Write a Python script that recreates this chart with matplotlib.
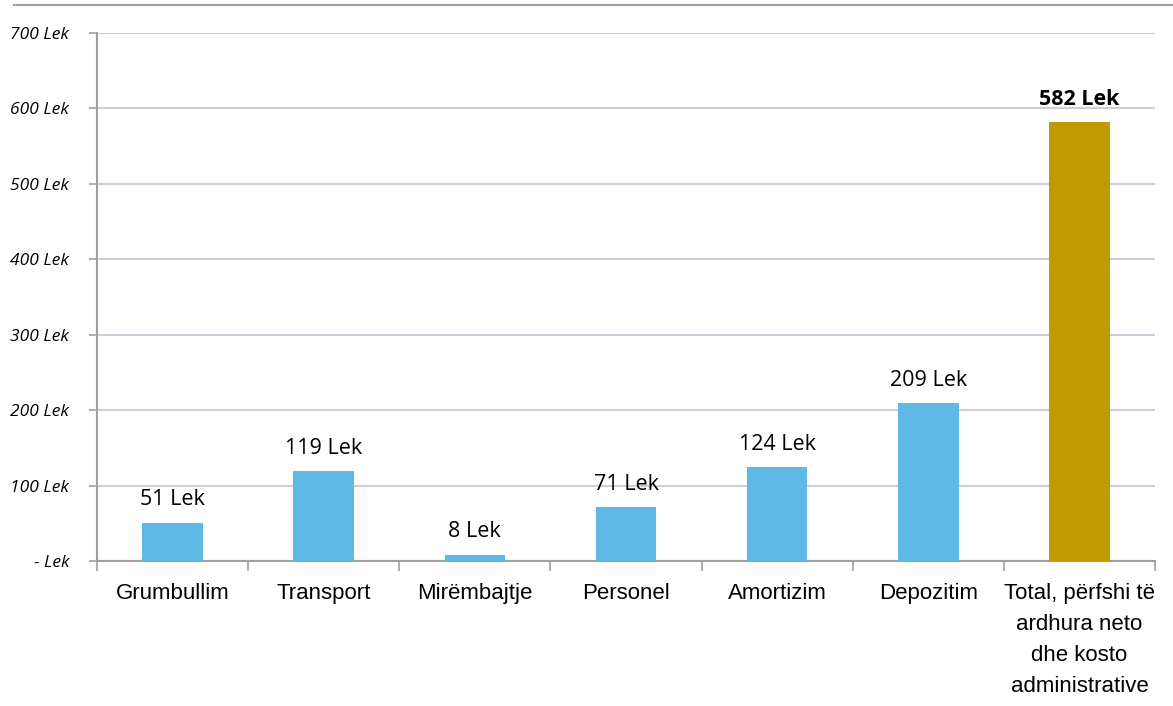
import matplotlib.pyplot as plt
from matplotlib.lines import Line2D
from matplotlib.ticker import FixedLocator

categories = ['Grumbullim', 'Transport', 'Mirëmbajtje', 'Personel',
              'Amortizim', 'Depozitim',
              'Total, përfshi të\nardhura neto\ndhe kosto\nadministrative']
values = [51, 119, 8, 71, 124, 209, 582]
y_ticks = [0, 100, 200, 300, 400, 500, 600, 700]
y_labels = ['- Lek', '100 Lek', '200 Lek', '300 Lek', '400 Lek',
            '500 Lek', '600 Lek', '700 Lek']

blue = '#5FB9E6'
gold = '#C09A00'
colors = [blue] * 6 + [gold]

fig = plt.figure(figsize=(11.73, 7.06), dpi=100)
ax = fig.add_axes([97 / 1173, 1 - 561 / 706, (1155 - 97) / 1173, (561 - 33) / 706])

x = list(range(len(categories)))
ax.bar(x, values, width=0.4, color=colors, zorder=3)
ax.set_xlim(-0.5, len(categories) - 0.5)
ax.set_ylim(0, 700)

ax.set_yticks(y_ticks)
ax.set_yticklabels(y_labels, fontsize=12.5, fontstyle='italic', family=['Open Sans', 'DejaVu Sans'])
ax.grid(axis='y', color='#CDD0DC', linewidth=1.5, zorder=0)
ax.tick_params(axis='y', length=6, color='#A0A0A0', width=1.2, pad=14)

ax.set_xticks(x)
ax.set_xticklabels(categories, fontsize=16, family=['Liberation Sans', 'DejaVu Sans'],
                   va='top', linespacing=1.62)
ax.tick_params(axis='x', length=0, pad=16)
ax.xaxis.set_minor_locator(FixedLocator([i - 0.5 for i in range(len(categories) + 1)]))
ax.tick_params(axis='x', which='minor', length=7, color='#A0A0A0', width=1.2)

for s in ['top', 'right']:
    ax.spines[s].set_visible(False)
for s in ['left', 'bottom']:
    ax.spines[s].set_color('#A0A0A0')
    ax.spines[s].set_linewidth(1.5)

for i, v in enumerate(values):
    bold = i == len(values) - 1
    ax.annotate(f'{v} Lek', (i, v), xytext=(0, 9), textcoords='offset points',
                ha='center', va='bottom', fontsize=15.5,
                fontweight='bold' if bold else 'normal',
                family=['Open Sans', 'DejaVu Sans'])

fig.add_artist(Line2D([14 / 1173, 1], [1 - 5 / 706, 1 - 5 / 706],
                      color='#A0A0A0', linewidth=1.5, transform=fig.transFigure))

fig.savefig('out.png', dpi=100)
